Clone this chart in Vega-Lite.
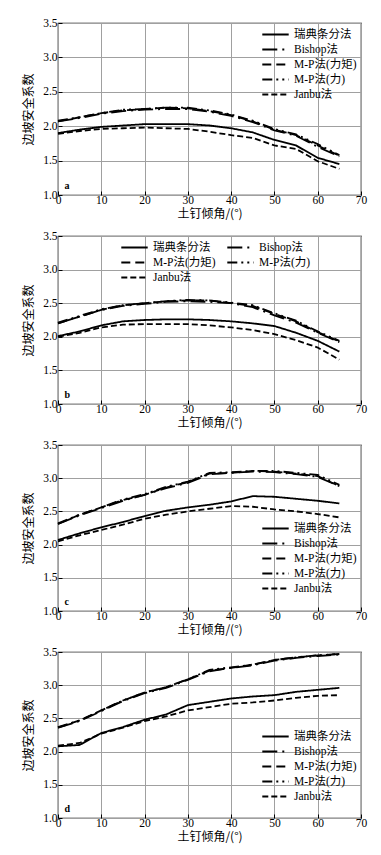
{
  "$schema": "https://vega.github.io/schema/vega-lite/v6.json",
  "background": "white",
  "padding": {"left": 22, "right": 5, "top": 16, "bottom": 5},
  "spacing": 8,
  "datasets": {
    "a": [
      {"angle": 0, "s": 1.90, "b": 2.07, "mpm": 2.07, "mpf": 2.08, "j": 1.89},
      {"angle": 5, "s": 1.95, "b": 2.12, "mpm": 2.13, "mpf": 2.13, "j": 1.93},
      {"angle": 10, "s": 1.99, "b": 2.18, "mpm": 2.19, "mpf": 2.19, "j": 1.96},
      {"angle": 15, "s": 2.01, "b": 2.22, "mpm": 2.23, "mpf": 2.24, "j": 1.97},
      {"angle": 20, "s": 2.03, "b": 2.24, "mpm": 2.25, "mpf": 2.25, "j": 1.98},
      {"angle": 25, "s": 2.03, "b": 2.25, "mpm": 2.27, "mpf": 2.27, "j": 1.97},
      {"angle": 30, "s": 2.03, "b": 2.25, "mpm": 2.26, "mpf": 2.27, "j": 1.96},
      {"angle": 35, "s": 2.01, "b": 2.21, "mpm": 2.22, "mpf": 2.23, "j": 1.92},
      {"angle": 40, "s": 1.97, "b": 2.15, "mpm": 2.16, "mpf": 2.17, "j": 1.87},
      {"angle": 45, "s": 1.91, "b": 2.06, "mpm": 2.07, "mpf": 2.08, "j": 1.83},
      {"angle": 50, "s": 1.80, "b": 1.94, "mpm": 1.95, "mpf": 1.96, "j": 1.72},
      {"angle": 55, "s": 1.72, "b": 1.86, "mpm": 1.87, "mpf": 1.88, "j": 1.67},
      {"angle": 60, "s": 1.54, "b": 1.70, "mpm": 1.72, "mpf": 1.74, "j": 1.49},
      {"angle": 65, "s": 1.45, "b": 1.56, "mpm": 1.57, "mpf": 1.58, "j": 1.38}
    ],
    "b": [
      {"angle": 0, "s": 2.01, "b": 2.20, "mpm": 2.20, "mpf": 2.21, "j": 2.00},
      {"angle": 5, "s": 2.08, "b": 2.30, "mpm": 2.30, "mpf": 2.31, "j": 2.06},
      {"angle": 10, "s": 2.17, "b": 2.40, "mpm": 2.40, "mpf": 2.41, "j": 2.14},
      {"angle": 15, "s": 2.23, "b": 2.46, "mpm": 2.47, "mpf": 2.47, "j": 2.18},
      {"angle": 20, "s": 2.25, "b": 2.49, "mpm": 2.50, "mpf": 2.50, "j": 2.19},
      {"angle": 25, "s": 2.26, "b": 2.52, "mpm": 2.53, "mpf": 2.53, "j": 2.19},
      {"angle": 30, "s": 2.26, "b": 2.53, "mpm": 2.54, "mpf": 2.55, "j": 2.19},
      {"angle": 35, "s": 2.25, "b": 2.52, "mpm": 2.54, "mpf": 2.54, "j": 2.17},
      {"angle": 40, "s": 2.23, "b": 2.50, "mpm": 2.50, "mpf": 2.51, "j": 2.14},
      {"angle": 45, "s": 2.20, "b": 2.44, "mpm": 2.46, "mpf": 2.47, "j": 2.10},
      {"angle": 50, "s": 2.16, "b": 2.32, "mpm": 2.34, "mpf": 2.35, "j": 2.04},
      {"angle": 55, "s": 2.06, "b": 2.21, "mpm": 2.23, "mpf": 2.24, "j": 1.95},
      {"angle": 60, "s": 1.94, "b": 2.06, "mpm": 2.07, "mpf": 2.08, "j": 1.84},
      {"angle": 65, "s": 1.78, "b": 1.92, "mpm": 1.93, "mpf": 1.94, "j": 1.66}
    ],
    "c": [
      {"angle": 0, "s": 2.07, "b": 2.31, "mpm": 2.31, "mpf": 2.32, "j": 2.05},
      {"angle": 5, "s": 2.17, "b": 2.44, "mpm": 2.45, "mpf": 2.45, "j": 2.14},
      {"angle": 10, "s": 2.26, "b": 2.55, "mpm": 2.56, "mpf": 2.56, "j": 2.22},
      {"angle": 15, "s": 2.34, "b": 2.66, "mpm": 2.67, "mpf": 2.68, "j": 2.30},
      {"angle": 20, "s": 2.43, "b": 2.75, "mpm": 2.75, "mpf": 2.76, "j": 2.39},
      {"angle": 25, "s": 2.51, "b": 2.85, "mpm": 2.86, "mpf": 2.87, "j": 2.45},
      {"angle": 30, "s": 2.56, "b": 2.93, "mpm": 2.94, "mpf": 2.95, "j": 2.50},
      {"angle": 35, "s": 2.60, "b": 3.06, "mpm": 3.07, "mpf": 3.08, "j": 2.54},
      {"angle": 40, "s": 2.65, "b": 3.08, "mpm": 3.08, "mpf": 3.09, "j": 2.58},
      {"angle": 45, "s": 2.73, "b": 3.10, "mpm": 3.11, "mpf": 3.11, "j": 2.57},
      {"angle": 50, "s": 2.72, "b": 3.09, "mpm": 3.10, "mpf": 3.11, "j": 2.53},
      {"angle": 55, "s": 2.69, "b": 3.06, "mpm": 3.07, "mpf": 3.08, "j": 2.50},
      {"angle": 60, "s": 2.66, "b": 3.02, "mpm": 3.03, "mpf": 3.05, "j": 2.46},
      {"angle": 65, "s": 2.62, "b": 2.88, "mpm": 2.88, "mpf": 2.90, "j": 2.41}
    ],
    "d": [
      {"angle": 0, "s": 2.08, "b": 2.36, "mpm": 2.36, "mpf": 2.37, "j": 2.09},
      {"angle": 5, "s": 2.10, "b": 2.46, "mpm": 2.47, "mpf": 2.47, "j": 2.13},
      {"angle": 10, "s": 2.28, "b": 2.61, "mpm": 2.62, "mpf": 2.62, "j": 2.27},
      {"angle": 15, "s": 2.37, "b": 2.76, "mpm": 2.77, "mpf": 2.77, "j": 2.36},
      {"angle": 20, "s": 2.48, "b": 2.88, "mpm": 2.89, "mpf": 2.89, "j": 2.46},
      {"angle": 25, "s": 2.56, "b": 2.96, "mpm": 2.97, "mpf": 2.97, "j": 2.53},
      {"angle": 30, "s": 2.70, "b": 3.08, "mpm": 3.09, "mpf": 3.09, "j": 2.62},
      {"angle": 35, "s": 2.75, "b": 3.21, "mpm": 3.22, "mpf": 3.23, "j": 2.67},
      {"angle": 40, "s": 2.80, "b": 3.26, "mpm": 3.26, "mpf": 3.27, "j": 2.72},
      {"angle": 45, "s": 2.83, "b": 3.30, "mpm": 3.31, "mpf": 3.31, "j": 2.74},
      {"angle": 50, "s": 2.85, "b": 3.37, "mpm": 3.38, "mpf": 3.38, "j": 2.77},
      {"angle": 55, "s": 2.90, "b": 3.41, "mpm": 3.42, "mpf": 3.42, "j": 2.81},
      {"angle": 60, "s": 2.93, "b": 3.44, "mpm": 3.45, "mpf": 3.45, "j": 2.84},
      {"angle": 65, "s": 2.96, "b": 3.46, "mpm": 3.47, "mpf": 3.47, "j": 2.85}
    ],
    "tags": [
      {"panel": "a", "angle": 1.5, "fs": 1.13},
      {"panel": "b", "angle": 1.5, "fs": 1.13},
      {"panel": "c", "angle": 1.5, "fs": 1.13},
      {"panel": "d", "angle": 1.5, "fs": 1.13}
    ]
  },
  "config": {
    "font": "Liberation Serif",
    "view": {"stroke": "black", "strokeWidth": 1.2},
    "axis": {
      "grid": true, "gridColor": "#a0a0a0", "gridWidth": 1,
      "domain": false,
      "ticks": true, "tickSize": -4, "tickColor": "black", "tickWidth": 1,
      "labelFont": "Liberation Serif", "labelFontSize": 11.5, "labelColor": "black",
      "labelOverlap": false, "labelFlush": false,
      "titleFont": "Noto Sans CJK SC", "titleFontSize": 12, "titleFontWeight": "normal", "titleColor": "black"
    },
    "axisX": {"labelPadding": 3, "titlePadding": 3},
    "axisY": {"labelPadding": 5, "titlePadding": 7},
    "legend": {
      "orient": "none", "title": null,
      "symbolType": "M-1.65,0H1.65", "symbolStrokeColor": "black", "symbolStrokeWidth": 2.2,
      "symbolSize": 256, "symbolFillColor": "transparent",
      "labelFont": "Liberation Serif, Noto Sans CJK SC", "labelFontSize": 11.5, "labelColor": "black",
      "rowPadding": 0, "labelOffset": 9
    }
  },
  "resolve": {"scale": {"strokeDash": "independent"}, "legend": {"strokeDash": "independent"}},
  "vconcat": [
    {
      "width": 303, "height": 172,
      "encoding": {
        "x": {"field": "angle", "type": "quantitative", "scale": {"domain": [0, 70], "nice": false}, "axis": {"values": [0, 10, 20, 30, 40, 50, 60, 70], "title": "土钉倾角/(°)"}},
        "y": {"field": "fs", "type": "quantitative", "scale": {"domain": [1, 3.5], "nice": false}, "axis": {"values": [1, 1.5, 2, 2.5, 3, 3.5], "format": ".1f", "title": "边坡安全系数"}}
      },
      "layer": [
        {
          "data": {"name": "a"},
          "transform": [{"fold": ["s", "b", "mpm", "mpf", "j"], "as": ["method", "fs"]}],
          "mark": {"type": "line", "color": "black", "strokeWidth": 1.8},
          "encoding": {
            "strokeDash": {"field": "method", "type": "nominal",
              "scale": {"domain": ["s", "b", "mpm", "mpf", "j"], "range": [[1, 0], [15, 5, 2, 5], [9, 5], [10, 4, 2, 4, 2, 4], [6, 3]]},
              "legend": {"legendX": 208, "legendY": 2, "labelExpr": "{'s':'瑞典条分法','b':'Bishop法','mpm':'M-P法(力矩)','mpf':'M-P法(力)','j':'Janbu法'}[datum.label]"}}
          }
        },
        {
          "data": {"name": "tags"},
          "transform": [{"filter": "datum.panel === 'a'"}],
          "mark": {"type": "text", "align": "left", "baseline": "middle", "fontWeight": "bold", "fontSize": 10},
          "encoding": {"text": {"field": "panel"}}
        }
      ]
    },
    {
      "width": 303, "height": 168,
      "encoding": {
        "x": {"field": "angle", "type": "quantitative", "scale": {"domain": [0, 70], "nice": false}, "axis": {"values": [0, 10, 20, 30, 40, 50, 60, 70], "title": "土钉倾角/(°)"}},
        "y": {"field": "fs", "type": "quantitative", "scale": {"domain": [1, 3.5], "nice": false}, "axis": {"values": [1, 1.5, 2, 2.5, 3, 3.5], "format": ".1f", "title": "边坡安全系数"}}
      },
      "layer": [
        {
          "data": {"name": "b"},
          "transform": [{"fold": ["s", "b", "mpm", "mpf", "j"], "as": ["method", "fs"]}],
          "mark": {"type": "line", "color": "black", "strokeWidth": 1.8},
          "encoding": {
            "strokeDash": {"field": "method", "type": "nominal",
              "scale": {"domain": ["s", "b", "mpm", "mpf", "j"], "range": [[1, 0], [15, 5, 2, 5], [9, 5], [10, 4, 2, 4, 2, 4], [6, 3]]},
              "legend": {"legendX": 67, "legendY": 2, "columns": 2, "direction": "horizontal", "columnPadding": 6, "labelExpr": "{'s':'瑞典条分法','b':'Bishop法','mpm':'M-P法(力矩)','mpf':'M-P法(力)','j':'Janbu法'}[datum.label]"}}
          }
        },
        {
          "data": {"name": "tags"},
          "transform": [{"filter": "datum.panel === 'b'"}],
          "mark": {"type": "text", "align": "left", "baseline": "middle", "fontWeight": "bold", "fontSize": 10},
          "encoding": {"text": {"field": "panel"}}
        }
      ]
    },
    {
      "width": 303, "height": 166,
      "encoding": {
        "x": {"field": "angle", "type": "quantitative", "scale": {"domain": [0, 70], "nice": false}, "axis": {"values": [0, 10, 20, 30, 40, 50, 60, 70], "title": "土钉倾角/(°)"}},
        "y": {"field": "fs", "type": "quantitative", "scale": {"domain": [1, 3.5], "nice": false}, "axis": {"values": [1, 1.5, 2, 2.5, 3, 3.5], "format": ".1f", "title": "边坡安全系数"}}
      },
      "layer": [
        {
          "data": {"name": "c"},
          "transform": [{"fold": ["s", "b", "mpm", "mpf", "j"], "as": ["method", "fs"]}],
          "mark": {"type": "line", "color": "black", "strokeWidth": 1.8},
          "encoding": {
            "strokeDash": {"field": "method", "type": "nominal",
              "scale": {"domain": ["s", "b", "mpm", "mpf", "j"], "range": [[1, 0], [15, 5, 2, 5], [9, 5], [10, 4, 2, 4, 2, 4], [6, 3]]},
              "legend": {"legendX": 208, "legendY": 74, "labelExpr": "{'s':'瑞典条分法','b':'Bishop法','mpm':'M-P法(力矩)','mpf':'M-P法(力)','j':'Janbu法'}[datum.label]"}}
          }
        },
        {
          "data": {"name": "tags"},
          "transform": [{"filter": "datum.panel === 'c'"}],
          "mark": {"type": "text", "align": "left", "baseline": "middle", "fontWeight": "bold", "fontSize": 10},
          "encoding": {"text": {"field": "panel"}}
        }
      ]
    },
    {
      "width": 303, "height": 166,
      "encoding": {
        "x": {"field": "angle", "type": "quantitative", "scale": {"domain": [0, 70], "nice": false}, "axis": {"values": [0, 10, 20, 30, 40, 50, 60, 70], "title": "土钉倾角/(°)"}},
        "y": {"field": "fs", "type": "quantitative", "scale": {"domain": [1, 3.5], "nice": false}, "axis": {"values": [1, 1.5, 2, 2.5, 3, 3.5], "format": ".1f", "title": "边坡安全系数"}}
      },
      "layer": [
        {
          "data": {"name": "d"},
          "transform": [{"fold": ["s", "b", "mpm", "mpf", "j"], "as": ["method", "fs"]}],
          "mark": {"type": "line", "color": "black", "strokeWidth": 1.8},
          "encoding": {
            "strokeDash": {"field": "method", "type": "nominal",
              "scale": {"domain": ["s", "b", "mpm", "mpf", "j"], "range": [[1, 0], [15, 5, 2, 5], [9, 5], [10, 4, 2, 4, 2, 4], [6, 3]]},
              "legend": {"legendX": 208, "legendY": 75, "labelExpr": "{'s':'瑞典条分法','b':'Bishop法','mpm':'M-P法(力矩)','mpf':'M-P法(力)','j':'Janbu法'}[datum.label]"}}
          }
        },
        {
          "data": {"name": "tags"},
          "transform": [{"filter": "datum.panel === 'd'"}],
          "mark": {"type": "text", "align": "left", "baseline": "middle", "fontWeight": "bold", "fontSize": 10},
          "encoding": {"text": {"field": "panel"}}
        }
      ]
    }
  ]
}
